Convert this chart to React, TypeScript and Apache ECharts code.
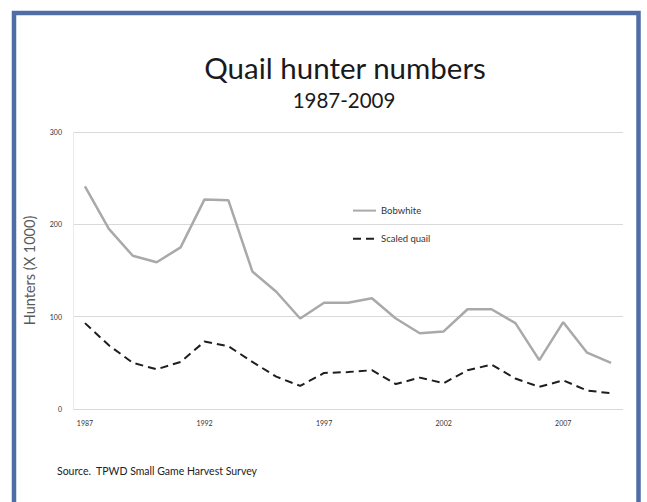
import React, { useEffect, useRef } from "react";
import * as echarts from "echarts";

// Hunter counts in thousands, 1987–2009
const years: string[] = [
  "1987", "1988", "1989", "1990", "1991", "1992", "1993", "1994", "1995", "1996", "1997", "1998",
  "1999", "2000", "2001", "2002", "2003", "2004", "2005", "2006", "2007", "2008", "2009",
];
const bobwhite: number[] = [
  241, 195, 166, 159, 175, 227, 226, 149, 127, 98, 115, 115, 120, 98, 82, 84, 108, 108, 93, 53, 94, 61, 50,
];
const scaledQuail: number[] = [
  93, 69, 50, 43, 51, 73, 68, 51, 35, 25, 39, 40, 42, 27, 34, 28, 42, 48, 33, 24, 31, 20, 17,
];
const yTicks: number[] = [0, 100, 200, 300];

const FONT = "Lato, 'Open Sans', 'DejaVu Sans', sans-serif";

export default function App() {
  const ref = useRef<HTMLDivElement>(null);

  useEffect(() => {
    if (!ref.current) return;
    const chart = echarts.init(ref.current, null, { renderer: "svg" });
    const yMax = yTicks[yTicks.length - 1];
    const yStep = yTicks[1] - yTicks[0];

    chart.setOption({
      animation: false,
      backgroundColor: "#ffffff",
      textStyle: { fontFamily: FONT },
      grid: { left: 73, right: 24, top: 132, height: 277, containLabel: false },
      legend: {
        orient: "vertical",
        left: 352,
        top: 205,
        padding: 0,
        itemWidth: 23,
        itemHeight: 14,
        itemGap: 17,
        // line-only legend keys (hide the marker drawn on the key)
        itemStyle: { opacity: 0 },
        textStyle: { fontSize: 9.5, color: "#333333", fontFamily: FONT },
        data: ["Bobwhite", "Scaled quail"],
      },
      xAxis: {
        type: "category",
        data: years,
        boundaryGap: true,
        axisLine: { show: false },
        axisTick: { show: false },
        splitLine: { show: false },
        axisLabel: {
          interval: 4,
          fontSize: 7,
          color: "#333333",
          margin: 10,
          fontFamily: FONT,
        },
      },
      yAxis: {
        type: "value",
        min: 0,
        max: yMax,
        interval: yStep,
        name: "Hunters (X 1000)",
        nameLocation: "middle",
        nameRotate: 90,
        nameGap: 36,
        nameTextStyle: { fontSize: 14.5, color: "#5a5a5a", fontFamily: FONT },
        axisLine: { show: true, lineStyle: { color: "#ececec", width: 1 } },
        axisTick: { show: false },
        axisLabel: { fontSize: 7, color: "#333333", margin: 11, fontFamily: FONT },
        splitLine: { show: true, lineStyle: { color: "#d9d9d9", width: 1 } },
      },
      series: [
        {
          name: "Bobwhite",
          type: "line",
          data: bobwhite,
          symbol: "none",
          lineStyle: { color: "#a9a9a9", width: 2.5, type: "solid" },
          itemStyle: { color: "#a9a9a9" },
        },
        {
          name: "Scaled quail",
          type: "line",
          data: scaledQuail,
          symbol: "none",
          lineStyle: { color: "#1e1e1e", width: 2, type: [8, 5] },
          itemStyle: { color: "#1e1e1e" },
        },
      ],
      graphic: [
        {
          type: "rect",
          shape: { x: 14, y: 13, width: 624.5, height: 520 },
          style: { fill: "none", stroke: "#4f6ea5", lineWidth: 4.5 },
          silent: true,
        },
        {
          type: "text",
          x: 345,
          y: 67,
          style: {
            text: "Quail hunter numbers",
            align: "center",
            verticalAlign: "middle",
            fontSize: 29.5,
            fontFamily: FONT,
            fill: "#1a1a1a",
          },
        },
        {
          type: "text",
          x: 344,
          y: 100,
          style: {
            text: "1987-2009",
            align: "center",
            verticalAlign: "middle",
            fontSize: 20.5,
            fontFamily: FONT,
            fill: "#1a1a1a",
          },
        },
        {
          type: "text",
          x: 57,
          y: 471,
          style: {
            text: "Source.  TPWD Small Game Harvest Survey",
            align: "left",
            verticalAlign: "middle",
            fontSize: 10.5,
            fontFamily: FONT,
            fill: "#222222",
          },
        },
      ],
    });

    return () => chart.dispose();
  }, []);

  return (
    <div
      ref={ref}
      style={{ position: "absolute", left: 0, top: 0, width: 647, height: 502 }}
    />
  );
}
